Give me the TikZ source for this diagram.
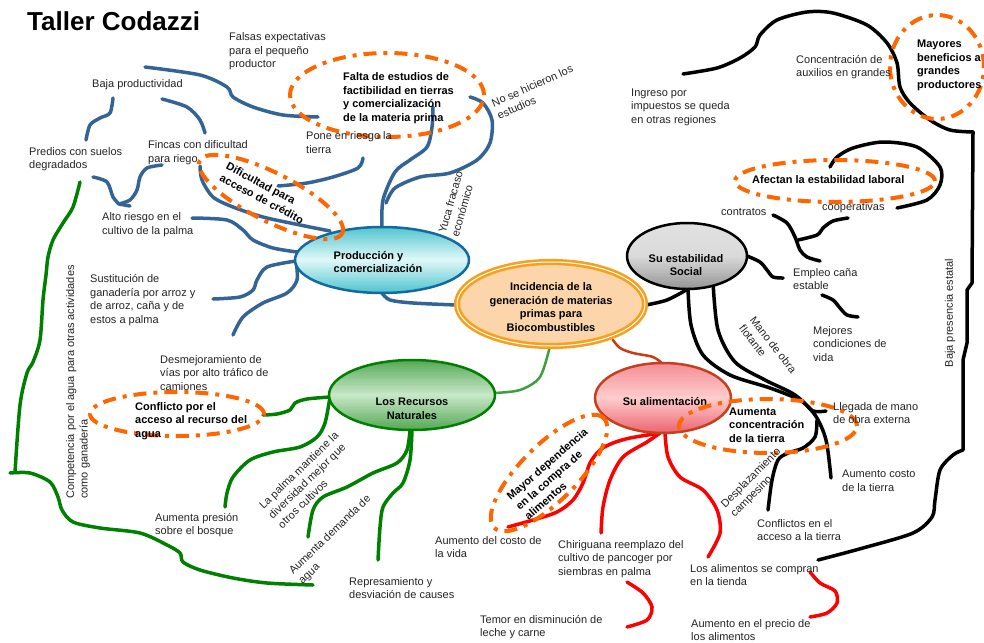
\documentclass[tikz,border=0pt]{standalone}
\usepackage{fontspec}
\setmainfont{Liberation Sans}
\usetikzlibrary{shapes.geometric}

\definecolor{lineBlue}{RGB}{52,100,150}
\definecolor{dashOrange}{RGB}{255,102,0}
\definecolor{leafGreen}{RGB}{0,128,0}
\definecolor{hubGreen}{RGB}{60,160,60}
\definecolor{foodRed}{RGB}{255,0,0}
\definecolor{rust}{RGB}{200,60,20}
\definecolor{prodEdge}{RGB}{20,105,160}
\definecolor{prodDark}{RGB}{80,196,206}
\definecolor{prodLight}{RGB}{225,248,248}
\definecolor{hubOrange}{RGB}{247,160,30}
\definecolor{hubPeach}{RGB}{252,214,170}
\definecolor{natDark}{RGB}{85,168,85}
\definecolor{natLight}{RGB}{200,232,200}
\definecolor{foodEdge}{RGB}{195,65,30}
\definecolor{foodTop}{RGB}{244,140,150}
\definecolor{foodDark}{RGB}{236,100,112}
\definecolor{foodLight}{RGB}{255,205,205}
\definecolor{greyTop}{RGB}{225,225,225}
\definecolor{greyMid}{RGB}{218,218,218}
\definecolor{greyBot}{RGB}{150,150,150}
\definecolor{txt}{RGB}{35,35,35}

% vertical three-colour gradient clipped to an ellipse:
% centre x, centre y, x radius, y radius, top, middle, bottom colour
\newcommand{\hubshade}[7]{%
  \begin{scope}
    \clip (#1,#2) ellipse [x radius=#3, y radius=#4];
    \foreach \k in {0,...,19}{%
      \pgfmathsetmacro{\mixA}{100*(\k+0.5)/20}%
      \fill[#6!\mixA!#5] ({#1-#3},{#2-#4+#4*\k/20}) rectangle ({#1+#3},{#2-#4+#4*(\k+1)/20+0.6});
      \pgfmathsetmacro{\mixB}{100*(1-(\k+0.5)/20)}%
      \fill[#6!\mixB!#7] ({#1-#3},{#2+#4*\k/20}) rectangle ({#1+#3},{#2+#4*(\k+1)/20+0.6});
    }
  \end{scope}}

\begin{document}
\begin{tikzpicture}[x=1pt,y=-1pt,
  every node/.style={inner sep=0pt, text=txt},
  lbl/.style={font=\fontsize{11}{13.5}\selectfont, align=left, anchor=west},
  blbl/.style={font=\fontsize{11}{13.5}\selectfont\bfseries, align=left, anchor=west, text=black},
  rlbl/.style={font=\fontsize{11}{13.5}\selectfont, align=left},
  brlbl/.style={font=\fontsize{11}{13.5}\selectfont\bfseries, align=left, text=black},
  hubtxt/.style={font=\fontsize{11}{13.5}\selectfont\bfseries, align=center, text=black},
  hub/.style={ellipse, inner sep=0pt, line width=2.5pt},
  hint/.style={ellipse, inner sep=0pt, draw=dashOrange, line width=4pt,
    dash pattern=on 13pt off 7pt on 4pt off 7pt},
  branch/.style={line width=3.5pt, line cap=round, line join=round},
  bl/.style={branch, draw=lineBlue},
  bk/.style={branch, draw=black},
  gr/.style={branch, draw=leafGreen},
  rd/.style={branch, draw=foodRed}]
\useasboundingbox (0,0) rectangle (984,642);

% ---------- hub positions (shapes drawn after the branches) ----------
\path (551,304) coordinate (hubC) (382,260) coordinate (prodC)
      (687,256) coordinate (socC) (412,395) coordinate (natC)
      (663,398) coordinate (foodC);

% ---------- Produccion y comercializacion : blue branches ----------
\coordinate (prodN) at (382,227);
\coordinate (faltaS) at (433,107);
\draw[bl] plot[smooth] coordinates {(prodN) (383,200) (395,172) (410,160) (427,147) (432,127) (faltaS)};
\coordinate (estSplit) at (386,203);
\coordinate (estEnd) at (470,97);
\draw[bl] plot[smooth] coordinates {(estSplit) (395,188) (420,177) (450,173) (477,160) (490,143) (492,120) (483,103) (estEnd)};
\coordinate (falsasE) at (145,67);
\coordinate (faltaW) at (318,117);
\draw[bl] plot[smooth] coordinates {(falsasE) (200,75) (227,87) (233,97) (253,107) (283,115) (faltaW)};
\coordinate (poneS) at (363,158);
\coordinate (creditN) at (278,186);
\draw[bl] plot[smooth] coordinates {(poneS) (358,168) (333,177) (307,183) (creditN)};
\coordinate (bajaR) at (162,99);
\coordinate (fincasN) at (205,133);
\draw[bl] plot[smooth] coordinates {(bajaR) (187,107) (200,120) (fincasN)};
\coordinate (bajaL) at (113,98);
\coordinate (prediosN) at (86,140);
\draw[bl] plot[smooth] coordinates {(bajaL) (110,113) (100,118) (90,125) (prediosN)};
\coordinate (prediosE) at (93,177);
\coordinate (altoTip) at (119,204);
\coordinate (altoStub) at (130,206);
\draw[bl] plot[smooth] coordinates {(prediosE) (107,182) (113,197) (altoTip)};
\coordinate (fincasS) at (162,165);
\draw[bl] plot[smooth] coordinates {(fincasS) (147,168) (140,177) (137,190) (130,200) (altoTip)};
\draw[bl] (altoTip) -- (altoStub);
\coordinate (fincasE) at (200,166);
\coordinate (prodNW) at (330,231);
\draw[bl] plot[smooth] coordinates {(fincasE) (202,180) (213,197) (233,207) (263,217) (300,225) (prodNW)};
\coordinate (altoE) at (192,218);
\coordinate (prodW1) at (297,252);
\draw[bl] plot[smooth] coordinates {(altoE) (227,220) (243,230) (253,240) (273,248) (prodW1)};
\coordinate (sustE) at (213,299);
\coordinate (prodW) at (296,261);
\draw[bl] plot[smooth] coordinates {(sustE) (240,297) (253,290) (257,280) (267,267) (prodW)};
\coordinate (sustS) at (233,335);
\draw[bl] plot[smooth] coordinates {(prodW) (297,280) (287,293) (263,303) (243,317) (sustS)};
\coordinate (hubW) at (456,305);
\coordinate (prodS) at (382,293);
\draw[bl] plot[smooth] coordinates {(hubW) (413,303) (390,300) (prodS)};

% ---------- Su estabilidad Social : black branches ----------
\coordinate (hubE) at (646,305);
\coordinate (socSW) at (688,289);
\draw[bk] plot[smooth] coordinates {(hubE) (667,300) (socSW)};
\coordinate (tiendaE) at (818,560);
\coordinate (estatalBend) at (963,450);
\coordinate (estatalTop) at (973,132);
\coordinate (ingresoE) at (683,74);
\draw[bk] plot[smooth] coordinates {(tiendaE) (863,548) (913,533) (932,517) (935,500) (940,470) (953,455) (estatalBend)}
  -- (963,360) -- (967,343) -- (967,290) -- (972,283) -- (estatalTop);
\draw[bk] plot[smooth] coordinates {(estatalTop) (950,130) (930,120) (910,103) (900,87) (897,63) (887,43) (867,25) (833,13) (807,12) (777,20) (760,35) (755,47) (740,58) (717,68) (ingresoE)};
\coordinate (laboralA) at (830,167);
\coordinate (laboralB) at (897,208);
\draw[bk] plot[smooth] coordinates {(laboralA) (837,157) (853,148) (883,142) (917,147) (940,167) (940,185) (927,200) (laboralB)};
\coordinate (coopS) at (848,218);
\coordinate (coopJ) at (798,240);
\draw[bk] plot[smooth] coordinates {(coopS) (833,221) (823,228) (817,235) (coopJ)};
\coordinate (contratosE) at (773,215);
\coordinate (empleoN) at (820,261);
\draw[bk] plot[smooth] coordinates {(contratosE) (787,223) (795,237) (800,250) (807,257) (empleoN)};
\coordinate (socE) at (747,256);
\coordinate (empleoW) at (783,278);
\draw[bk] plot[smooth] coordinates {(socE) (760,262) (767,270) (773,277) (empleoW)};
\coordinate (empleoS) at (822,295);
\coordinate (mejoresN) at (858,317);
\draw[bk] plot[smooth] coordinates {(empleoS) (833,300) (840,308) (847,315) (mejoresN)};
\coordinate (llegadaW) at (826,411);
\draw[bk] plot[smooth] coordinates {(socSW) (691,325) (703,355) (730,375) (770,388) (800,400) (813,411) (llegadaW)};
\coordinate (socS) at (713,282);
\coordinate (costoN) at (831,478);
\draw[bk] plot[smooth] coordinates {(socS) (718,330) (735,362) (765,380) (795,395) (815,415) (826,440) (costoN)};
\coordinate (despSplit) at (817,420);
\coordinate (conflictosN) at (768,510);
\draw[bk] plot[smooth] coordinates {(despSplit) (815,437) (803,448) (788,453) (778,460) (772,480) (conflictosN)};

% ---------- Su alimentacion : red branches ----------
\coordinate (hubSE) at (613,340);
\coordinate (foodN) at (663,364);
\draw[branch, draw=rust, line width=2.5pt] plot[smooth] coordinates {(hubSE) (620,348) (633,353) (653,357) (foodN)};
\coordinate (foodS) at (660,433);
\coordinate (vidaE) at (508,527);
\draw[rd] plot[smooth] coordinates {(foodS) (630,438) (613,443) (600,450) (590,463) (583,483) (573,500) (557,512) (533,520) (vidaE)};
\coordinate (chiriN) at (601,533);
\draw[rd] plot[smooth] coordinates {(foodS) (647,442) (623,457) (610,480) (603,507) (chiriN)};
\coordinate (foodS2) at (665,433);
\coordinate (tiendaN) at (708,557);
\draw[rd] plot[smooth] coordinates {(foodS2) (668,457) (680,477) (703,490) (717,510) (720,533) (tiendaN)};
\coordinate (chiriS) at (627,582);
\coordinate (temorN) at (627,627);
\draw[rd] plot[smooth] coordinates {(chiriS) (643,593) (652,607) (647,620) (temorN)};
\coordinate (tiendaS) at (810,572);
\coordinate (precioN) at (810,617);
\draw[rd] plot[smooth] coordinates {(tiendaS) (820,583) (835,591) (837,603) (827,613) (precioN)};

% ---------- Los Recursos Naturales : green branches ----------
\coordinate (hubS) at (550,346);
\coordinate (natE) at (494,393);
\draw[branch, draw=hubGreen, line width=2.5pt] plot[smooth] coordinates {(hubS) (540,377) (520,390) (natE)};
\coordinate (natW) at (330,397);
\coordinate (aguaE) at (263,415);
\draw[gr] plot[smooth] coordinates {(natW) (307,399) (295,403) (290,410) (277,414) (aguaE)};
\coordinate (presionN) at (225,507);
\draw[gr] plot[smooth] coordinates {(natW) (325,423) (317,437) (300,447) (273,452) (250,460) (233,477) (227,493) (presionN)};
\coordinate (natS) at (410,430);
\coordinate (demandaE) at (308,537);
\draw[gr] plot[smooth] coordinates {(natS) (407,450) (397,463) (373,473) (347,487) (323,497) (313,510) (demandaE)};
\coordinate (natS2) at (412,430);
\coordinate (represN) at (378,560);
\draw[gr] plot[smooth] coordinates {(natS2) (410,460) (403,483) (393,493) (383,507) (380,527) (represN)};
\coordinate (prediosS) at (80,182);
\coordinate (compCorner) at (15,472);
\coordinate (compStub) at (10,473);
\coordinate (demandaW) at (313,585);
\draw[gr] plot[smooth] coordinates {(prediosS) (73,207) (63,223) (53,240) (48,257) (46,275) (43,300) (40,340) (33,362) (27,373) (20,405) (compCorner)};
\draw[gr] plot[smooth] coordinates {(compStub) (30,473) (50,482) (58,497) (62,510) (73,522) (100,528) (140,533) (167,545) (180,553) (183,562) (200,570) (233,578) (267,583) (demandaW)};

% ---------- hub ellipses ----------
\node[hub, draw=hubOrange, line width=2.6pt, double=white, double distance=1pt,
      fill=hubPeach, minimum width=188pt, minimum height=84pt] (hub) at (hubC) {};
\node[hubtxt] (hubT) at (551,307) {Incidencia de la\\generación de materias\\primas para\\Biocombustibles};

\hubshade{382}{260}{87}{33}{prodDark}{prodLight}{prodDark}
\node[hub, draw=prodEdge, minimum width=174pt, minimum height=66pt] (prod) at (prodC) {};
\node[blbl, anchor=center] (prodT) at (378,262) {Producción y\\comercialización};

\hubshade{687}{256}{60}{33}{greyTop}{greyMid}{greyBot}
\node[hub, draw=black, minimum width=120pt, minimum height=66pt] (soc) at (socC) {};
\node[hubtxt] (socT) at (686,265) {Su estabilidad\\Social};

\hubshade{412}{395}{83}{35}{natDark}{natLight}{natDark}
\node[hub, draw=leafGreen, minimum width=166pt, minimum height=70pt] (nat) at (natC) {};
\node[hubtxt] (natT) at (412,409) {Los Recursos\\Naturales};

\hubshade{663}{398}{68}{35}{foodTop}{foodLight}{foodDark}
\node[hub, draw=foodEdge, minimum width=136pt, minimum height=70pt] (food) at (foodC) {};
\node[hubtxt] (foodT) at (665,402) {Su alimentación};

% ---------- highlighted ideas (dash-dot rings) ----------
\node[hint, minimum width=194pt, minimum height=84pt] (faltaRing) at (387,95) {};
\node[hint, minimum width=160pt, minimum height=48pt, rotate=-27] (creditRing) at (271,197) {};
\node[hint, minimum width=174pt, minimum height=44pt] (aguaRing) at (177,414) {};
\node[hint, minimum width=155pt, minimum height=56pt, rotate=45] (compraRing) at (549,473) {};
\node[hint, minimum width=178pt, minimum height=54pt] (tierraRing) at (768,426) {};
\node[hint, minimum width=200pt, minimum height=42pt] (laboralRing) at (835,181) {};
\node[hint, minimum width=94pt, minimum height=104pt] (mayoresRing) at (937,67) {};

% ---------- title ----------
\node[font=\fontsize{26}{30}\selectfont\bfseries, anchor=west, text=black] (title) at (27,21) {Taller Codazzi};

% ---------- labels ----------
\node[lbl] (falsas) at (229,51.5) {Falsas expectativas\\para el pequeño\\productor};
\node[lbl] (baja) at (92,85) {Baja productividad};
\node[lbl] (predios) at (29,159) {Predios con suelos\\degradados};
\node[lbl] (fincas) at (148,152.5) {Fincas con dificultad\\para riego};
\node[lbl] (alto) at (102,224.5) {Alto riesgo en el\\cultivo de la palma};
\node[lbl] (sust) at (90,300) {Sustitución de\\ganadería por arroz y\\de arroz, caña y de\\estos a palma};
\node[lbl] (pone) at (306,142.5) {Pone en riesgo la\\tierra};
\node[blbl] (falta) at (343,98) {Falta de estudios de\\factibilidad en tierras\\y comercialización\\de la materia prima};
\node[brlbl, rotate=-28] (credito) at (265,193) {Dificultad para\\acceso de crédito};
\node[rlbl, rotate=24] (estudios) at (535,92) {No se hicieron los\\estudios};
\node[rlbl, rotate=74] (yuca) at (457,204) {Yuca fracaso\\económico};

\node[lbl] (desmej) at (160,373) {Desmejoramiento de\\vías por alto tráfico de\\camiones};
\node[blbl] (conflicto) at (135,421) {Conflicto por el\\acceso al recurso del\\agua};
\node[rlbl, rotate=90] (competencia) at (78,382) {Competencia por el agua para otras actividades\\como ganadería};
\node[rlbl, rotate=44] (palma) at (308,480) {La palma mantiene la\\diversidad mejor que\\otros cultivos};
\node[lbl] (presion) at (155,525) {Aumenta presión\\sobre el bosque};
\node[rlbl, rotate=44] (demanda) at (335,540) {Aumenta demanda de\\agua};
\node[lbl] (repres) at (349,588) {Represamiento y\\desviación de causes};

\node[brlbl, rotate=41] (mayor) at (556,474) {Mayor dependencia\\en la compra de\\alimentos};
\node[lbl] (vida) at (435,547) {Aumento del costo de\\la vida};
\node[lbl] (chiri) at (558,559) {Chiriguana reemplazo del\\cultivo de pancoger por\\siembras en palma};
\node[lbl] (temor) at (480,627) {Temor en disminución de\\leche y carne};
\node[lbl] (tienda) at (690,575) {Los alimentos se compran\\en la tienda};
\node[lbl] (precio) at (691,630) {Aumento en el precio de\\los alimentos};

\node[blbl] (tierra) at (729,425) {Aumenta\\concentración\\de la tierra};
\node[rlbl, rotate=45] (desplaz) at (756,483) {Desplazamiento\\campesino};
\node[lbl] (conflictos) at (757,530) {Conflictos en el\\acceso a la tierra};
\node[lbl] (costo) at (842,481) {Aumento costo\\de la tierra};
\node[lbl] (llegada) at (833,413) {Llegada de mano\\de obra externa};
\node[rlbl, rotate=-52] (flotante) at (768,349) {Mano de obra\\flotante};
\node[lbl] (mejores) at (813,344) {Mejores\\condiciones de\\vida};
\node[lbl] (empleo) at (793,279) {Empleo caña\\estable};
\node[lbl] (contratos) at (721,212) {contratos};
\node[lbl] (coop) at (822,208) {cooperativas};
\node[blbl] (laboral) at (752,180) {Afectan la estabilidad laboral};
\node[lbl] (ingreso) at (631,107) {Ingreso por\\impuestos se queda\\en otras regiones};
\node[lbl] (auxilios) at (796,67) {Concentración de\\auxilios en grandes};
\node[blbl] (mayores) at (917,65.5) {Mayores\\beneficios a\\grandes\\productores};
\node[rlbl, rotate=90] (estatal) at (950,313) {Baja presencia estatal};
\end{tikzpicture}
\end{document}
